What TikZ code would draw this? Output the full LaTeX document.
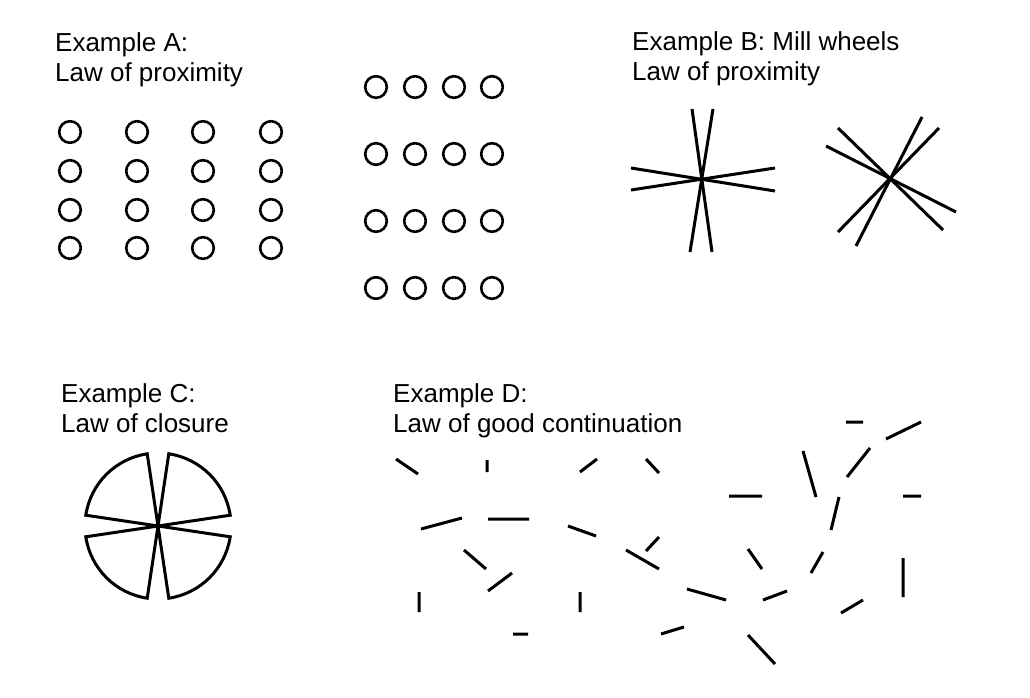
\documentclass[tikz,border=0pt]{standalone}
\usepackage{fontspec}
\setmainfont{Liberation Sans}
\usetikzlibrary{positioning}

\begin{document}
\begin{tikzpicture}[
  x=1pt, y=-1pt,
  title/.style={anchor=base west, inner sep=0pt, font=\fontsize{26}{30}\selectfont},
  ring/.style={line width=2.6pt},
  spoke/.style={line width=3pt},
  wedge/.style={line width=3pt, line join=miter},
  bar/.style={line width=3pt},
]
\useasboundingbox (0,0) rectangle (1030,698);

% Titles
\node[title] (ta1) at (55,52) {Example A:};
\node[title] (ta2) at (55,82) {Law of proximity};
\node[title] (tb1) at (632,51) {Example B: Mill wheels};
\node[title] (tb2) at (632,81) {Law of proximity};
\node[title] (tc1) at (61,402) {Example C:};
\node[title] (tc2) at (61,432) {Law of closure};
\node[title] (td1) at (393,402) {Example D:};
\node[title] (td2) at (393,432) {Law of good continuation};

% Example A - columns
\foreach \x in {70,137,203,271}
  \foreach \y in {132,171,210,248}
    \draw[ring] (\x,\y) circle[radius=10.8];

% Example A - rows
\foreach \x in {376,415,454,492}
  \foreach \y in {87,154,221,288}
    \draw[ring] (\x,\y) circle[radius=10.8];

% Example B - mill wheels
\coordinate (w1) at (702,179);
\draw[spoke] (692,109) -- (712,252);
\draw[spoke] (713,109) -- (690,252);
\draw[spoke] (631,168) -- (775,191);
\draw[spoke] (631,190) -- (775,168);

\coordinate (w2) at (890,177);
\draw[spoke] (922,117) -- (856,246);
\draw[spoke] (939,128) -- (838,232);
\draw[spoke] (838,128) -- (943,230);
\draw[spoke] (826,146) -- (956,212);

% Example C - closure
\coordinate (c) at (158,526);
\foreach \a in {0,90,180,270}
  \draw[wedge] (c) -- ++(\a+8.5:73) arc[start angle=\a+8.5, end angle=\a+81.5, radius=73] -- cycle;

% Example D - good continuation
\draw[bar] (396,459) -- (418,474)  (487,460) -- (487,472)
  (580,472) -- (597,459)  (646,459) -- (659,473)
  (421,529) -- (462,518)  (488,519) -- (529,519)
  (568,526) -- (596,536)  (464,550) -- (486,569)
  (488,591) -- (512,573)  (646,551) -- (659,537)
  (626,550) -- (659,569)  (419,592) -- (419,612)
  (580,592) -- (580,612)  (513,634) -- (528,634)
  (661,634) -- (684,627);
\draw[bar] (846,422) -- (863,422)  (886,439) -- (921,422)
  (847,477) -- (870,448)  (803,451) -- (816,497)
  (729,496) -- (762,496)  (903,496) -- (921,496)
  (839,497) -- (831,530)  (748,549) -- (762,569)
  (823,552) -- (811,573)  (903,558) -- (903,597)
  (687,589) -- (726,600)  (763,600) -- (787,591)
  (841,613) -- (863,600)  (748,635) -- (775,664);

\end{tikzpicture}
\end{document}
